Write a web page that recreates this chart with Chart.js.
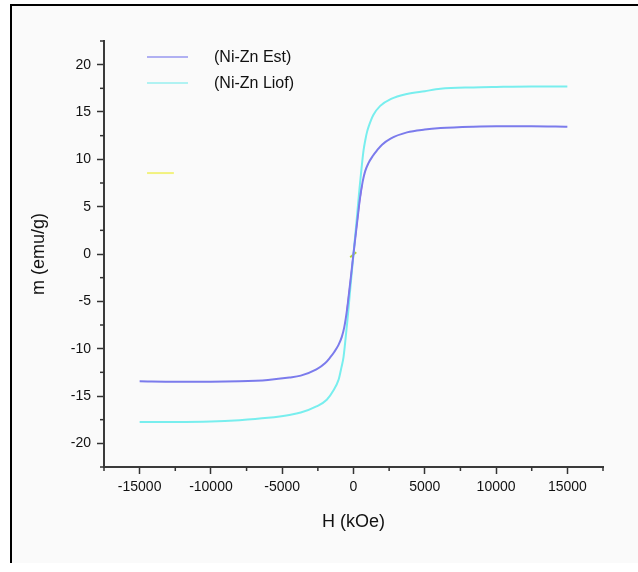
<!DOCTYPE html>
<html><head><meta charset="utf-8">
<script src="https://cdn.jsdelivr.net/npm/chart.js@4.4.1/dist/chart.umd.min.js"></script>
<style>
html,body{margin:0;padding:0;background:#fff;}
#frame{position:absolute;left:10px;top:4px;width:626px;height:557px;border-left:2px solid #000;border-top:2px solid #000;background:#fafafa;}
#wrap{position:absolute;left:0;top:0;width:638px;height:572px;}
</style></head>
<body>
<div id="frame"></div>
<div id="wrap"><canvas id="c" width="638" height="572"></canvas></div>
<script>
// Series: field H (Oe) and magnetisation m (emu/g)
const estH = [-15000,-12500,-10000,-8000,-6000,-4500,-3700,-2600,-2000,-1650,-1350,-1050,-820,-650,-450,-300,-150,0,150,300,450,650,820,1050,1350,1650,2000,2600,3750,5000,6100,8400,10000,12500,15000];
const estM = [-13.45,-13.5,-13.5,-13.45,-13.3,-13.05,-12.85,-12.2,-11.55,-10.95,-10.35,-9.6,-8.75,-7.75,-5.85,-3.95,-2.0,0.05,2.0,3.95,5.85,7.7,8.75,9.6,10.35,10.95,11.55,12.2,12.85,13.15,13.3,13.45,13.5,13.5,13.45];
const liofH = [-15000,-12500,-10000,-8000,-6000,-4500,-3700,-2600,-1875,-1400,-1050,-950,-850,-700,-560,-420,-240,0,240,420,560,700,850,950,1050,1400,1875,2600,3750,5000,6100,8400,10000,12500,15000];
const liofM = [-17.75,-17.75,-17.7,-17.55,-17.3,-17.0,-16.75,-16.1,-15.4,-14.4,-13.3,-12.7,-12.0,-10.9,-9.0,-6.9,-3.9,0,3.9,6.9,9.0,10.9,12.2,12.9,13.4,14.7,15.65,16.35,16.9,17.2,17.45,17.6,17.65,17.7,17.7];
// small extra traces visible near the origin and in the upper left
const magH = [590,420,280,0,-230,-464];
const magM = [7.2,5.5,3.7,0.1,-3.1,-6.0];
const greenH = [-232,190];
const greenM = [-0.35,0.18];
const yellowH = [-14480,-12600];
const yellowM = [8.55,8.55];
const seriesLabels = ['(Ni-Zn Est)','(Ni-Zn Liof)'];
const xTickValues = [-15000,-10000,-5000,0,5000,10000,15000];
const yTickValues = [-20,-15,-10,-5,0,5,10,15,20];

const pts = (h,m) => h.map((v,i)=>({x:v,y:m[i]}));
const FONT = "'Liberation Sans', Arial, sans-serif";

const minorTicks = {
  id:'minorTicks',
  afterDraw(chart){
    const ctx = chart.ctx, a = chart.chartArea;
    const xs = chart.scales.x, ys = chart.scales.y;
    ctx.save();
    ctx.strokeStyle = '#333'; ctx.lineWidth = 1.5;
    xs.ticks.forEach(t=>{ if(!xTickValues.includes(t.value)){ const p = xs.getPixelForValue(t.value); ctx.beginPath(); ctx.moveTo(p,a.bottom); ctx.lineTo(p,a.bottom+4); ctx.stroke(); }});
    ys.ticks.forEach(t=>{ if(!yTickValues.includes(t.value)){ const p = ys.getPixelForValue(t.value); ctx.beginPath(); ctx.moveTo(a.left,p); ctx.lineTo(a.left-4,p); ctx.stroke(); }});
    // legend
    const legCols = ['#b0b0f2','#b0f2f2'];
    const legY = [57,83];
    ctx.font = '16px ' + FONT; ctx.fillStyle = '#111'; ctx.textBaseline = 'middle';
    for(let i=0;i<2;i++){
      ctx.strokeStyle = legCols[i]; ctx.lineWidth = 2;
      ctx.beginPath(); ctx.moveTo(147,legY[i]); ctx.lineTo(188,legY[i]); ctx.stroke();
      ctx.fillText(chart.data.datasets[i].label, 214, legY[i]+1);
    }
    ctx.restore();
  }
};

new Chart(document.getElementById('c'), {
  type:'scatter',
  data:{datasets:[
    {label:seriesLabels[0], data:pts(estH,estM), showLine:true, borderColor:'#7b7bec', borderWidth:2, pointRadius:0, cubicInterpolationMode:'monotone'},
    {label:seriesLabels[1], data:pts(liofH,liofM), showLine:true, borderColor:'#78eeee', borderWidth:2, pointRadius:0, cubicInterpolationMode:'monotone'},
    {label:'m', data:pts(magH,magM), showLine:true, borderColor:'#d05ad8', borderWidth:1.5, pointRadius:0, cubicInterpolationMode:'monotone'},
    {label:'g', data:pts(greenH,greenM), showLine:true, borderColor:'#b4d236', borderWidth:2, pointRadius:0},
    {label:'yl', data:pts(yellowH,yellowM), showLine:true, borderColor:'#f2f27e', borderWidth:2, pointRadius:0}
  ]},
  options:{
    responsive:false, animation:false, events:[],
    layout:{padding:{top:41,right:35,left:0,bottom:0}},
    plugins:{legend:{display:false}, tooltip:{enabled:false}},
    scales:{
      x:{type:'linear', min:-17500, max:17500,
        afterFit:s=>{s.height=105;},
        border:{display:true,color:'#3a3a3a',width:2},
        grid:{drawOnChartArea:false, tickLength:7, tickWidth:1.5, tickColor:c=> (c.tick && xTickValues.includes(c.tick.value)) ? '#333' : 'rgba(0,0,0,0)'},
        ticks:{stepSize:2500, autoSkip:false, maxRotation:0, padding:5, color:'#111', font:{family:FONT,size:14},
          callback:v=> xTickValues.includes(v) ? String(v) : ''},
        title:{display:true, text:'H (kOe)', color:'#111', font:{family:FONT,size:18}, padding:{top:0,bottom:39}}
      },
      y:{type:'linear', min:-22.5, max:22.5,
        afterFit:s=>{s.width=104;},
        border:{display:true,color:'#3a3a3a',width:2},
        grid:{drawOnChartArea:false, tickLength:7, tickWidth:1.5, tickColor:c=> (c.tick && yTickValues.includes(c.tick.value)) ? '#333' : 'rgba(0,0,0,0)'},
        ticks:{stepSize:2.5, autoSkip:false, padding:6, color:'#111', font:{family:FONT,size:14},
          callback:v=> yTickValues.includes(v) ? String(v) : ''},
        title:{display:true, text:'m (emu/g)', color:'#111', font:{family:FONT,size:18}, padding:{top:28,bottom:0}}
      }
    }
  },
  plugins:[minorTicks]
});
</script>
</body></html>
